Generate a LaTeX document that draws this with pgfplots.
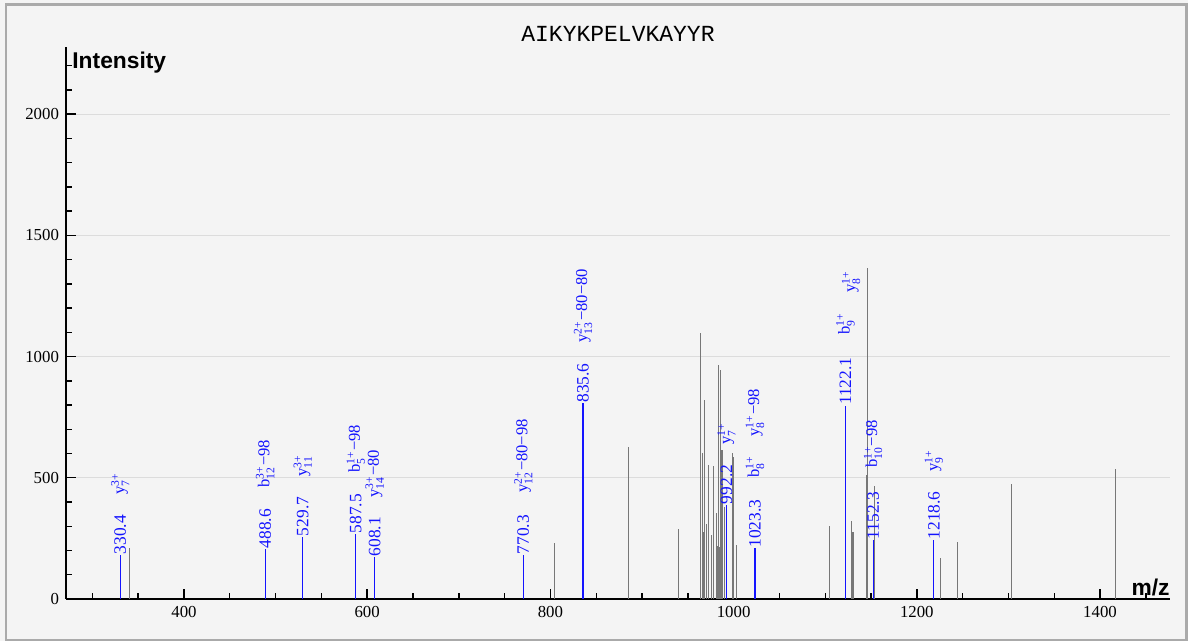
\documentclass[border=0pt]{standalone}
\usepackage{pgfplots}
\pgfplotsset{compat=1.18}
\usepackage{amsmath}
\usepackage{fontspec}
\setmainfont{Liberation Serif}
\newfontfamily\lsans{Liberation Sans}
\newfontfamily\lmono{Liberation Mono}

\definecolor{bgcol}{HTML}{F4F4F4}
\definecolor{framecol}{HTML}{AAAAAA}
\definecolor{gridcol}{HTML}{DCDCDC}
\definecolor{pk}{HTML}{777777}
\definecolor{ann}{HTML}{1414FF}

% ion name with stacked charge / index
\newcommand\ion[3]{#1$_{\text{#2}}^{\text{#3}}$}

\tikzset{lbl/.style={rotate=90, anchor=west, inner sep=0pt, text=ann,
    font=\fontsize{8.3}{9}\selectfont},
  num/.style={lbl, font=\fontsize{8.7}{9}\selectfont}}

\begin{document}
\begin{tikzpicture}
% page background and frame
\fill[bgcol] (0,0) rectangle (594pt,320.5pt);
\draw[framecol, line width=1.2pt] (3pt,0.6pt) rectangle (593.2pt,318.3pt);

\begin{axis}[
    at={(33pt,21pt)}, anchor=south west,
    scale only axis, width=552pt, height=276pt,
    xmin=271.2, xmax=1476.4,
    ymin=0, ymax=2277,
    axis x line*=bottom, axis y line*=left,
    axis line style={-, black, line width=0.8pt},
    xtick={400,600,...,1400},
    ytick={0,500,...,2000},
    minor xtick={300,350,...,1450},
    minor ytick={100,200,...,2200},
    major tick length=5pt, minor tick length=3pt,
    every tick/.style={black, line width=0.7pt},
    tick align=inside,
    ymajorgrids,
    major grid style={gridcol, line width=0.5pt},
    ticklabel style={font=\fontsize{8.4}{10}\selectfont},
    /pgf/number format/assume math mode=true,
    /pgf/number format/1000 sep={},
    clip=false,
]

% unassigned peaks
\addplot[ycomb, pk, line width=0.55pt, mark=none] coordinates {
    (340.3,210) (804,231) (885.6,628) (939.4,289)
    (964.2,1096) (965.6,601) (967,278) (968.5,821) (970.4,309)
    (972.6,553) (975.9,264) (978.4,550) (981,356) (982.8,220)
    (983.5,965) (984.4,216) (986,945) (987.3,615) (990.3,380)
    (998.4,601) (999.9,587) (1002.9,223)
    (1104.3,301) (1128.8,323) (1130.3,278) (1144.8,511) (1146.3,1367)
    (1153.6,468) (1225.5,171) (1244.4,237) (1303,474) (1416.6,535)
};

% annotated peaks
\addplot[ycomb, ann, line width=0.55pt, mark=none] coordinates {
    (330.4,181) (488.6,206) (529.7,256) (587.5,268) (608.1,173)
    (770.3,181) (835.6,807) (992.2,388) (1023.3,209)
    (1122.1,797) (1152.3,243) (1218.6,243)
};

% m/z labels
\node[num] at (axis cs:330.4,183) {330.4};
\node[num] at (axis cs:488.6,208) {488.6};
\node[num] at (axis cs:529.7,258) {529.7};
\node[num] at (axis cs:587.5,270) {587.5};
\node[num] at (axis cs:608.1,175) {608.1};
\node[num] at (axis cs:770.3,183) {770.3};
\node[num] at (axis cs:835.6,809) {835.6};
\node[num] at (axis cs:992.2,390) {992.2};
\node[num] at (axis cs:1023.3,211) {1023.3};
\node[num] at (axis cs:1122.1,799) {1122.1};
\node[num] at (axis cs:1152.3,245) {1152.3};
\node[num] at (axis cs:1218.6,245) {1218.6};

% ion labels
\node[lbl] at (axis cs:330.4,429) {\ion{y}{7}{3+}};
\node[lbl] at (axis cs:488.6,458) {\ion{b}{12}{3+}−98};
\node[lbl] at (axis cs:529.7,503) {\ion{y}{11}{3+}};
\node[lbl] at (axis cs:587.5,520) {\ion{b}{5}{1+}−98};
\node[lbl] at (axis cs:608.1,417) {\ion{y}{14}{3+}−80};
\node[lbl] at (axis cs:770.3,437) {\ion{y}{12}{2+}−80−98};
\node[lbl] at (axis cs:835.6,1056) {\ion{y}{13}{2+}−80−80};
\node[lbl] at (axis cs:992.2,635) {\ion{y}{7}{1+}};
\node[lbl] at (axis cs:1023.3,499) {\ion{b}{8}{1+}};
\node[lbl] at (axis cs:1023.3,668) {\ion{y}{8}{1+}−98};
\node[lbl] at (axis cs:1122.1,1089) {\ion{b}{9}{1+}};
\node[lbl] at (axis cs:1128.2,1262) {\ion{y}{8}{1+}};
\node[lbl] at (axis cs:1152.3,540) {\ion{b}{10}{1+}−98};
\node[lbl] at (axis cs:1218.6,524) {\ion{y}{9}{1+}};

% title and axis names
\node[font=\lmono\fontsize{11.5}{12}\selectfont, anchor=base, inner sep=0pt]
    at (rel axis cs:0.5,1) [yshift=2.7pt] {AIKYKPELVKAYYR};
\node[font=\lsans\bfseries\fontsize{11.4}{12}\selectfont, anchor=base west, inner sep=0pt]
    at (axis cs:271.2,2190) [xshift=3pt] {Intensity};
\node[font=\lsans\bfseries\fontsize{11.4}{12}\selectfont, anchor=base east, inner sep=0pt]
    at (rel axis cs:1,0) [yshift=1.8pt] {m/z};
\end{axis}
\end{tikzpicture}
\end{document}
